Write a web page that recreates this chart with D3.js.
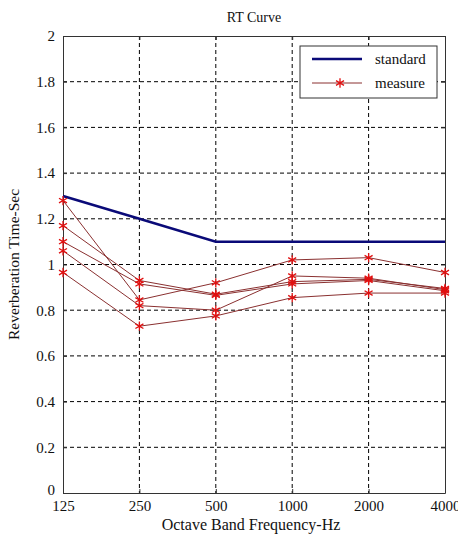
<!DOCTYPE html>
<html><head><meta charset="utf-8">
<script src="https://cdn.jsdelivr.net/npm/d3@7"></script>
<style>body{margin:0;background:#fff}svg{display:block}text{font-family:"Liberation Serif","Times New Roman",serif;fill:#111}</style>
</head><body><svg id="c" width="458" height="537"></svg>
<script>
const freqs = ["125","250","500","1000","2000","4000"];
const yTicks = [0,0.2,0.4,0.6,0.8,1,1.2,1.4,1.6,1.8,2];
const standard = [1.3,1.2,1.1,1.1,1.1,1.1];
const measureA = [1.28,0.845,0.92,1.02,1.03,0.965];
const measureB = [1.17,0.93,0.87,0.925,0.935,0.895];
const measureC = [1.10,0.915,0.865,0.915,0.93,0.885];
const measureD = [1.06,0.82,0.80,0.95,0.94,0.89];
const measureE = [0.965,0.73,0.775,0.855,0.875,0.875];
const measures = [measureA,measureB,measureC,measureD,measureE];

const svg = d3.select("#c");
const L=63,R=445,T=36,B=493;
const x = d3.scalePoint().domain(freqs).range([L,R]).padding(0);
const y = d3.scaleLinear().domain([0,2]).range([B,T]);

// grid
const g = svg.append("g");
g.selectAll(".hg").data(yTicks.filter(v=>v>0&&v<2)).join("line")
 .attr("x1",L).attr("x2",R).attr("y1",d=>y(d)).attr("y2",d=>y(d))
 .attr("stroke","#000").attr("stroke-width",1).attr("stroke-dasharray","4,3");
g.selectAll(".vg").data(freqs.slice(1,-1)).join("line")
 .attr("x1",d=>x(d)).attr("x2",d=>x(d)).attr("y1",T).attr("y2",B)
 .attr("stroke","#000").attr("stroke-width",1).attr("stroke-dasharray","4,3");

// axes
const yAxis = d3.axisLeft(y).tickValues(yTicks).tickFormat(d3.format("~g")).tickSizeInner(-4).tickSizeOuter(0).tickPadding(8);
const ya = svg.append("g").attr("transform",`translate(${L},0)`).call(yAxis);
const yr = svg.append("g").attr("transform",`translate(${R},0)`).call(d3.axisRight(y).tickValues(yTicks).tickSizeInner(-4).tickSizeOuter(0).tickFormat(""));
const xAxis = d3.axisBottom(x).tickSizeInner(-4).tickSizeOuter(0).tickPadding(7);
const xa = svg.append("g").attr("transform",`translate(0,${B})`).call(xAxis);
const xt = svg.append("g").attr("transform",`translate(0,${T})`).call(d3.axisTop(x).tickSizeInner(-4).tickSizeOuter(0).tickFormat(""));
[ya,yr,xa,xt].forEach(a=>{a.selectAll("path,line").attr("stroke","#333").attr("stroke-width",1);a.selectAll("text").attr("font-size",15).attr("fill","#111");});
ya.selectAll("text").attr("dy",d=>d===0?"0.1em":"0.32em");

// lines
const line = d3.line().x((d,i)=>x(freqs[i])).y(d=>y(d));
svg.append("path").datum(standard).attr("d",line).attr("fill","none").attr("stroke","#0a0a78").attr("stroke-width",2.5);

const star = d3.symbol().type(d3.symbolAsterisk).size(60);
measures.forEach(s=>{
  svg.append("path").datum(s).attr("d",line).attr("fill","none").attr("stroke","#8a3030").attr("stroke-width",1);
});
measures.forEach(s=>{
  svg.append("g").selectAll("path").data(s).join("path")
   .attr("transform",(d,i)=>`translate(${x(freqs[i])},${y(d)})`)
   .attr("d",star).attr("fill","none").attr("stroke","#e01010").attr("stroke-width",1.3);
});

// titles
svg.append("text").attr("x",(L+R)/2).attr("y",22).attr("text-anchor","middle").attr("font-size",14).text("RT Curve");
svg.append("text").attr("x",(L+R)/2-3).attr("y",530).attr("text-anchor","middle").attr("font-size",16).text("Octave Band Frequency-Hz");
svg.append("text").attr("transform",`translate(19,${(T+B)/2}) rotate(-90)`).attr("text-anchor","middle").attr("font-size",15.5).text("Reverberation Time-Sec");

// legend
const lg = svg.append("g");
lg.append("rect").attr("x",300).attr("y",46).attr("width",137).attr("height",52).attr("fill","#fff").attr("stroke","#333").attr("stroke-width",1);
lg.append("line").attr("x1",312).attr("x2",362).attr("y1",59).attr("y2",59).attr("stroke","#0a0a78").attr("stroke-width",2.5);
lg.append("text").attr("x",375).attr("y",64).attr("font-size",15).text("standard");
lg.append("line").attr("x1",312).attr("x2",362).attr("y1",83).attr("y2",83).attr("stroke","#8a3030").attr("stroke-width",1);
lg.append("path").attr("transform","translate(340,83)").attr("d",star).attr("fill","none").attr("stroke","#e01010").attr("stroke-width",1.3);
lg.append("text").attr("x",375).attr("y",88).attr("font-size",15).text("measure");
</script></body></html>
